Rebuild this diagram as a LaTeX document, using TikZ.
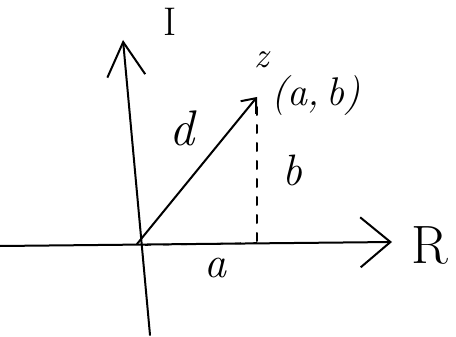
\documentclass[tikz,border=0pt]{standalone}
\usepackage{fontspec}
\setmainfont{Latin Modern Roman}
\usetikzlibrary{arrows.meta}
\begin{document}
\begin{tikzpicture}[x=1pt,y=-1pt,
  ln/.style={line width=2pt,line cap=round,black},
  lbl/.style={inner sep=0pt,font=\itshape}]
\useasboundingbox (0,0) rectangle (456,337);
\coordinate (O) at (137,244);
\coordinate (Itop) at (123,40);
\coordinate (Ibot) at (150,335);
\coordinate (Lend) at (0,246);
\coordinate (Rend) at (392,242);
\coordinate (Z) at (257,97);
\coordinate (F) at (257,243);
\draw[ln,-{Straight Barb[length=34pt,width=38pt,line width=2pt]}] (Ibot) -- (Itop);
\draw[ln,-{Straight Barb[length=30pt,width=50pt,line width=2pt]}] (Lend) -- (Rend);
\draw[ln,-{Straight Barb[length=12pt,width=20pt,line width=2pt]}] (O) -- (Z);
\draw[ln,dashed,dash pattern=on 8pt off 10pt] (Z) ++(0,10) -- (F);
\draw[line width=1.6pt,dashed,dash pattern=on 6pt off 12pt] (O) ++(8,1) -- (F);
\node[inner sep=0pt,font=\fontsize{40}{40}\selectfont] (lI) at (170,22) {I};
\node[lbl,font=\fontsize{36}{36}\selectfont\itshape] (lz) at (262,60) {z};
\node[lbl,font=\fontsize{40}{40}\selectfont\itshape] (lab) at (316,96) {(a,\,b)};
\node[lbl,font=\fontsize{50}{50}\selectfont\itshape] (ld) at (182,128) {d};
\node[lbl,font=\fontsize{44}{44}\selectfont\itshape] (lb) at (292,170) {b};
\node[lbl,font=\fontsize{44}{44}\selectfont\itshape] (la) at (215,268) {a};
\node[inner sep=0pt,font=\fontsize{54}{54}\selectfont] (lR) at (430,245) {R};
\end{tikzpicture}
\end{document}
